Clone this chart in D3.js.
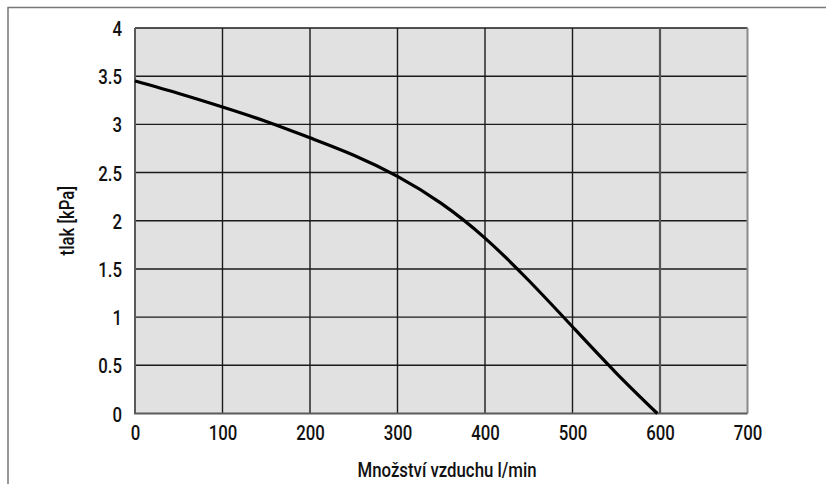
<!DOCTYPE html>
<html>
<head>
<meta charset="utf-8">
<script src="https://cdn.jsdelivr.net/npm/d3@7"></script>
<style>
  body { margin: 0; background: #fff; }
  svg text { font-family: Roboto, "Liberation Sans", sans-serif; font-weight: 500; fill: #111; }
</style>
</head>
<body>
<div id="chart"></div>
<script>
// Data
var flowTicks = [0, 100, 200, 300, 400, 500, 600, 700];
var pressureTicks = [0, 0.5, 1, 1.5, 2, 2.5, 3, 3.5, 4];
var flow = [0, 50, 100, 150, 200, 250, 300, 350, 400, 450, 500, 550, 597];
var pressure = [3.45, 3.32, 3.18, 3.03, 2.86, 2.68, 2.46, 2.18, 1.82, 1.38, 0.9, 0.42, 0];
var xTitle = "Množství vzduchu l/min";
var yTitle = "tlak [kPa]";

var width = 826,
    height = 484;
var margin = {top: 28, right: 78, bottom: 70, left: 135};
var squeeze = 0.8; // condensed look for the labels
var fontSize = '21px';

var svg = d3.select('#chart')
    .append('svg')
    .attr('width', width)
    .attr('height', height);

// outer frame (only top and left edges show)
svg.append('path')
    .attr('d', 'M8,' + height + ' V7.5 H' + width)
    .attr('fill', 'none')
    .attr('stroke', '#777')
    .attr('stroke-width', 1.5);

var x = d3.scaleLinear().domain([0, 700]).range([margin.left, 747.5]);
var y = d3.scaleLinear().domain([0, 4]).range([413.5, margin.top]);

// plot background
svg.append('rect')
    .attr('x', x(0))
    .attr('y', y(4))
    .attr('width', x(700) - x(0))
    .attr('height', y(0) - y(4))
    .attr('fill', '#e1e1e1');

// grid
svg.append('g').selectAll('line')
    .data(pressureTicks.filter(function(d) { return d > 0; }))
    .enter()
    .append('line')
    .attr('x1', x(0))
    .attr('x2', x(700))
    .attr('y1', function(d) { return y(d); })
    .attr('y2', function(d) { return y(d); })
    .attr('stroke', '#1a1a1a')
    .attr('stroke-width', 1.4);

svg.append('g').selectAll('line')
    .data(flowTicks.filter(function(d) { return d > 0 && d < 700; }))
    .enter()
    .append('line')
    .attr('x1', function(d) { return x(d); })
    .attr('x2', function(d) { return x(d); })
    .attr('y1', y(4))
    .attr('y2', y(0))
    .attr('stroke', function(d) { return d === 600 ? '#555' : '#1a1a1a'; })
    .attr('stroke-width', function(d) { return d === 600 ? 2.2 : 1.4; });

// right edge
svg.append('line')
    .attr('x1', x(700)).attr('x2', x(700))
    .attr('y1', y(4)).attr('y2', y(0))
    .attr('stroke', '#8a8a8a')
    .attr('stroke-width', 2);

// axes lines (left and bottom)
svg.append('path')
    .attr('d', 'M' + x(0) + ',' + y(4) + ' V' + y(0) + ' H' + x(700))
    .attr('fill', 'none')
    .attr('stroke', '#5a5a5a')
    .attr('stroke-width', 2);

// Y-axis labels
var yAxis = d3.axisLeft(y)
    .tickValues(pressureTicks)
    .tickSize(0)
    .tickPadding(0)
    .tickFormat(d3.format('~g'));
var gy = svg.append('g')
    .attr('transform', 'translate(' + (x(0) - 13) + ',0)')
    .call(yAxis);
gy.select('.domain').remove();
gy.selectAll('text')
    .attr('x', 0)
    .attr('dy', '0.36em')
    .attr('transform', 'scale(' + squeeze + ',1)')
    .style('font-size', fontSize);

// X-axis labels
var xAxis = d3.axisBottom(x)
    .tickValues(flowTicks)
    .tickSize(0)
    .tickPadding(12)
    .tickFormat(d3.format('d'));
var gx = svg.append('g')
    .attr('transform', 'translate(0,' + y(0) + ')')
    .call(xAxis);
gx.select('.domain').remove();
gx.selectAll('text')
    .attr('transform', 'scale(' + squeeze + ',1)')
    .style('font-size', fontSize);

// curve
var points = flow.map(function(f, i) { return [f, pressure[i]]; });
var line = d3.line()
    .x(function(d) { return x(d[0]); })
    .y(function(d) { return y(d[1]); })
    .curve(d3.curveNatural);

svg.append('path')
    .datum(points)
    .attr('d', line)
    .attr('fill', 'none')
    .attr('stroke', '#000')
    .attr('stroke-width', 3.2)
    .attr('stroke-linejoin', 'round');

// axis titles
svg.append('text')
    .attr('transform', 'translate(' + 447 + ',477) scale(' + squeeze + ',1)')
    .attr('text-anchor', 'middle')
    .style('font-size', fontSize)
    .text(xTitle);

svg.append('text')
    .attr('transform', 'translate(74,' + ((y(0) + y(4)) / 2) + ') rotate(-90) scale(' + squeeze + ',1)')
    .attr('text-anchor', 'middle')
    .style('font-size', fontSize)
    .text(yTitle);
</script>
</body>
</html>
